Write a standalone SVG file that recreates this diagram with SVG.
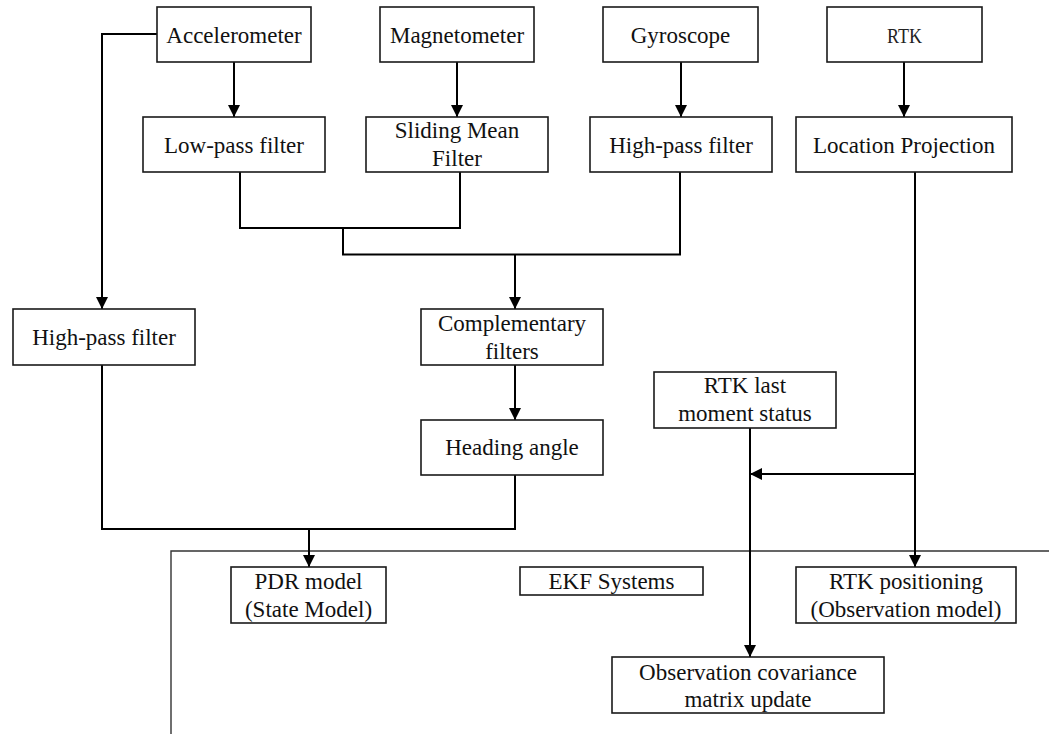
<svg xmlns="http://www.w3.org/2000/svg" width="1049" height="734" viewBox="0 0 1049 734">
<defs>
<marker id="ah" markerWidth="12" markerHeight="12" viewBox="0 0 12 12" refX="12" refY="6" orient="auto" markerUnits="userSpaceOnUse">
<path d="M0,0 L12,6 L0,12 Z" fill="#000"/>
</marker>
<style>
.box{fill:#fff;stroke:#1a1a1a;stroke-width:1.6}
.t{font-family:"Liberation Serif","Times New Roman",serif;font-size:23px;fill:#111;text-anchor:middle}
.m{font-family:"Liberation Serif","Times New Roman",serif;font-size:22px;fill:#222;text-anchor:middle}
.c{fill:none;stroke:#000;stroke-width:2}
.a{marker-end:url(#ah)}
.frame{fill:none;stroke:#333;stroke-width:1.4}
</style>
</defs>
<rect width="1049" height="734" fill="#fff"/>
<g id="ekf-frame"><path class="frame" d="M1049,551 H171 V734"/></g>
<g id="connectors">
<path class="c a" d="M157,34 H102 V309"/>
<path class="c a" d="M234,62 V117"/>
<path class="c a" d="M457,62 V117"/>
<path class="c a" d="M681,62 V117"/>
<path class="c a" d="M904,62 V117"/>
<path class="c" d="M240,172 V228 H460 V172"/>
<path class="c" d="M343,228 V254.5 H680 V172"/>
<path class="c a" d="M515,254.5 V309"/>
<path class="c a" d="M515,365 V420"/>
<path class="c" d="M102,365 V529 H515 V475"/>
<path class="c a" d="M309,529 V567"/>
<path class="c a" d="M915,172 V567"/>
<path class="c a" d="M915,474 H750"/>
<path class="c a" d="M750,428 V657"/>
</g>
<g id="accelerometer"><rect class="box" x="157" y="7" width="154" height="55"/><text class="t" x="234" y="43">Accelerometer</text></g>
<g id="magnetometer"><rect class="box" x="380" y="7" width="154" height="55"/><text class="t" x="457" y="43">Magnetometer</text></g>
<g id="gyroscope"><rect class="box" x="603" y="7" width="155" height="55"/><text class="t" x="680.5" y="43">Gyroscope</text></g>
<g id="rtk"><rect class="box" x="827" y="7" width="155" height="55"/><text class="m" x="904.5" y="43" textLength="35" lengthAdjust="spacingAndGlyphs">RTK</text></g>
<g id="lowpass"><rect class="box" x="143" y="117" width="182" height="55"/><text class="t" x="234" y="153">Low-pass filter</text></g>
<g id="sliding"><rect class="box" x="366" y="117" width="182" height="55"/><text class="t" x="457" y="138">Sliding Mean</text><text class="t" x="457" y="166">Filter</text></g>
<g id="highpass-gyro"><rect class="box" x="590" y="117" width="182" height="55"/><text class="t" x="681" y="153">High-pass filter</text></g>
<g id="location"><rect class="box" x="796" y="117" width="216" height="55"/><text class="t" x="904" y="153">Location Projection</text></g>
<g id="highpass-acc"><rect class="box" x="13" y="309" width="182" height="56"/><text class="t" x="104" y="345">High-pass filter</text></g>
<g id="complementary"><rect class="box" x="421" y="309" width="182" height="56"/><text class="t" x="512" y="331">Complementary</text><text class="t" x="512" y="359">filters</text></g>
<g id="heading"><rect class="box" x="421" y="420" width="182" height="55"/><text class="t" x="512" y="455">Heading angle</text></g>
<g id="rtk-last"><rect class="box" x="654" y="372" width="182" height="56"/><text class="t" x="745" y="393">RTK last</text><text class="t" x="745" y="421">moment status</text></g>
<g id="pdr"><rect class="box" x="231" y="567" width="155" height="56"/><text class="t" x="308.5" y="589">PDR model</text><text class="t" x="308.5" y="617">(State Model)</text></g>
<g id="ekf"><rect class="box" x="520" y="567" width="183" height="28"/><text class="t" x="611.5" y="589">EKF Systems</text></g>
<g id="rtk-pos"><rect class="box" x="796" y="567" width="220" height="56"/><text class="t" x="906" y="589">RTK positioning</text><text class="t" x="906" y="617">(Observation model)</text></g>
<g id="obs-cov"><rect class="box" x="612" y="657" width="272" height="56"/><text class="t" x="748" y="680">Observation covariance</text><text class="t" x="748" y="707">matrix update</text></g>
</svg>
